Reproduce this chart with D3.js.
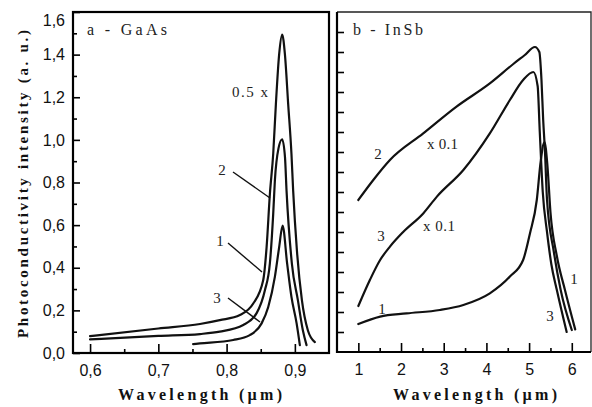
<!DOCTYPE html>
<html>
<head>
<meta charset="utf-8">
<script src="https://cdn.jsdelivr.net/npm/d3@7/dist/d3.min.js"></script>
<style>
  body { margin: 0; background: #fff; }
  svg { display: block; }
</style>
</head>
<body>
<svg id="chart" width="592" height="407"></svg>
<script>
// ---------- Panel a: GaAs ----------
const gaasTicksMajor = [0.6, 0.7, 0.8, 0.9];
const gaasTicksMinor = [0.65, 0.75, 0.85];
const gaasYMajor = [0, 0.2, 0.4, 0.6, 0.8, 1.0, 1.2, 1.4, 1.6];
const gaasYMinor = [0.1, 0.3, 0.5, 0.7, 0.9, 1.1, 1.3, 1.5];

const gaasWl2 = [0.60, 0.70, 0.761, 0.790, 0.8195, 0.839, 0.8536, 0.8586, 0.8634, 0.8683, 0.8722, 0.877, 0.8814, 0.8854, 0.8902, 0.895, 0.8975, 0.903, 0.9103, 0.919, 0.9293];
const gaasV2  = [0.079, 0.115, 0.136, 0.154, 0.178, 0.232, 0.341, 0.497, 0.746, 0.935, 1.168, 1.402, 1.494, 1.402, 1.168, 0.935, 0.762, 0.481, 0.248, 0.107, 0.051];

const gaasWl1 = [0.60, 0.70, 0.761, 0.790, 0.8244, 0.844, 0.8561, 0.8634, 0.8683, 0.8707, 0.876, 0.8814, 0.8855, 0.8878, 0.8956, 0.9044, 0.9117, 0.9171];
const gaasV1  = [0.064, 0.080, 0.089, 0.100, 0.131, 0.187, 0.294, 0.421, 0.654, 0.808, 0.960, 1.003, 0.920, 0.762, 0.420, 0.248, 0.107, 0.037];

const gaasWl3 = [0.751, 0.761, 0.8097, 0.834, 0.8513, 0.861, 0.8707, 0.877, 0.882, 0.8887, 0.895, 0.9025, 0.9073];
const gaasV3  = [0.042, 0.045, 0.061, 0.084, 0.139, 0.216, 0.357, 0.497, 0.598, 0.419, 0.263, 0.140, 0.037];

// ---------- Panel b: InSb ----------
const insbTicksMajor = [1, 2, 3, 4, 5, 6];
const insbTicksMinor = [1.5, 2.5, 3.5, 4.5, 5.5];
const insbYTicks = [1, 2, 3, 4, 5, 6, 7, 8, 9, 10, 11, 12, 13, 14, 15, 16];

const insbWl2 = [1.0, 1.35, 1.74, 2.52, 3.30, 4.08, 4.63, 4.90, 5.136, 5.24, 5.29, 5.33, 5.37, 5.42, 5.58, 5.74, 6.0];
const insbV2  = [7.6, 8.6, 9.6, 10.93, 12.27, 13.43, 14.4, 14.85, 15.25, 15.0, 13.6, 11.6, 10.1, 7.6, 5.0, 3.1, 1.1];

const insbWl3 = [1.0, 1.27, 1.51, 1.74, 2.05, 2.52, 2.84, 3.46, 4.08, 4.55, 4.86, 5.10, 5.20, 5.25, 5.32, 5.42, 5.52, 5.65, 5.88];
const insbV3  = [2.3, 3.6, 4.6, 5.27, 6.0, 6.93, 7.77, 9.1, 10.93, 12.6, 13.6, 14.0, 13.3, 11.0, 8.0, 6.0, 4.4, 3.1, 1.0];

const insbWl1 = [1.0, 1.51, 2.13, 2.91, 3.46, 4.08, 4.55, 4.86, 5.02, 5.18, 5.27, 5.36, 5.43, 5.5, 5.65, 5.84, 6.08];
const insbV1  = [1.4, 1.77, 1.93, 2.1, 2.35, 2.93, 3.77, 4.6, 5.93, 7.6, 9.5, 10.5, 9.3, 7.0, 4.8, 3.1, 1.13];

const svg = d3.select("#chart");
const serif = "'Liberation Serif', 'Times New Roman', serif";
const sans = "'Liberation Sans', Arial, sans-serif";
const comma = v => d3.format(".1f")(v).replace(".", ",");

// scales
const xa = d3.scaleLinear().domain([0.575, 0.95]).range([73, 329]);
const ya = d3.scaleLinear().domain([0, 1.6]).range([353, 12]);
const xb = d3.scaleLinear().domain([0.5, 6.45]).range([337, 591]);
const yb = d3.scaleLinear().domain([0, 17]).range([352, 12]);

function styleAxis(g) {
  g.select(".domain").remove();
  g.selectAll(".tick line").attr("stroke", "#000").attr("stroke-width", 1.6);
  g.selectAll("text").attr("font-family", sans).attr("font-size", 16).attr("fill", "#111");
}

// ---- panel a axes ----
svg.append("g").attr("transform", "translate(0,353)")
  .call(d3.axisBottom(xa).tickValues(gaasTicksMajor).tickFormat(comma).tickSize(-9).tickPadding(12))
  .call(styleAxis);
svg.append("g").attr("transform", "translate(0,353)")
  .call(d3.axisBottom(xa).tickValues(gaasTicksMinor).tickFormat("").tickSize(-4))
  .call(styleAxis);
const yAxA = svg.append("g").attr("transform", "translate(73,0)")
  .call(d3.axisLeft(ya).tickValues(gaasYMajor).tickFormat(comma).tickSize(-7).tickPadding(8))
  .call(styleAxis);
yAxA.selectAll(".tick").filter(d => d === 1.6).select("text").attr("dy", "0.85em");
svg.append("g").attr("transform", "translate(73,0)")
  .call(d3.axisLeft(ya).tickValues(gaasYMinor).tickFormat("").tickSize(-4))
  .call(styleAxis);

// ---- panel b axes ----
svg.append("g").attr("transform", "translate(0,352)")
  .call(d3.axisBottom(xb).tickValues(insbTicksMajor).tickFormat(d3.format("d")).tickSize(-9).tickPadding(12))
  .call(styleAxis);
svg.append("g").attr("transform", "translate(0,352)")
  .call(d3.axisBottom(xb).tickValues(insbTicksMinor).tickFormat("").tickSize(-4))
  .call(styleAxis);
svg.append("g").attr("transform", "translate(337,0)")
  .call(d3.axisLeft(yb).tickValues(insbYTicks).tickFormat("").tickSize(-7))
  .call(styleAxis);

// ---- frames ----
svg.append("rect").attr("x", 73).attr("y", 12).attr("width", 256).attr("height", 341)
  .attr("fill", "none").attr("stroke", "#000").attr("stroke-width", 2.2);
svg.append("path").attr("d", "M337,12 H591 V352").attr("fill", "none").attr("stroke", "#222").attr("stroke-width", 1.3);
svg.append("path").attr("d", "M337,12 V352 H591").attr("fill", "none").attr("stroke", "#000").attr("stroke-width", 2.2);

// ---- curves ----
function drawCurve(wl, v, x, y) {
  const line = d3.line().x((d, i) => x(wl[i])).y((d, i) => y(v[i])).curve(d3.curveMonotoneX);
  svg.append("path").datum(wl).attr("d", line)
    .attr("fill", "none").attr("stroke", "#111").attr("stroke-width", 2.2)
    .attr("stroke-linejoin", "round").attr("stroke-linecap", "round");
}
drawCurve(gaasWl2, gaasV2, xa, ya);
drawCurve(gaasWl1, gaasV1, xa, ya);
drawCurve(gaasWl3, gaasV3, xa, ya);
drawCurve(insbWl2, insbV2, xb, yb);
drawCurve(insbWl3, insbV3, xb, yb);
drawCurve(insbWl1, insbV1, xb, yb);

// ---- annotations ----
function txt(x, y, s, opts = {}) {
  const t = svg.append("text").attr("x", x).attr("y", y).text(s)
    .attr("font-family", opts.family || serif)
    .attr("font-size", opts.size || 15)
    .attr("font-weight", opts.weight || "normal")
    .attr("fill", opts.fill || "#222")
    .attr("text-anchor", opts.anchor || "start");
  if (opts.len) t.attr("textLength", opts.len).attr("lengthAdjust", "spacing");
  return t;
}
txt(87, 35, "a - GaAs", { len: 80, size: 16 });
txt(353, 35, "b - InSb", { len: 70, size: 16 });
txt(232, 97, "0.5 x", { len: 36 });

txt(222, 175, "2", { anchor: "middle" });
txt(220, 246, "1", { anchor: "middle" });
txt(217, 303, "3", { anchor: "middle" });
const leaders = [[233, 172, 270, 198], [228, 243, 262, 272], [228, 298, 260, 322]];
leaders.forEach(l => svg.append("line").attr("x1", l[0]).attr("y1", l[1]).attr("x2", l[2]).attr("y2", l[3])
  .attr("stroke", "#111").attr("stroke-width", 1.4));

txt(378, 159, "2", { anchor: "middle" });
txt(427, 149, "x 0.1", { len: 31 });
txt(381, 241, "3", { anchor: "middle" });
txt(423, 231, "x 0.1", { len: 32 });
txt(382, 314, "1", { anchor: "middle" });
txt(574, 284, "1", { anchor: "middle" });
txt(550, 321, "3", { anchor: "middle" });

// ---- axis titles ----
txt(200, 400, "Wavelength (µm)", { anchor: "middle", weight: "bold", size: 16, len: 164, fill: "#111" });
txt(475, 400, "Wavelength (µm)", { anchor: "middle", weight: "bold", size: 16, len: 164, fill: "#111" });
svg.append("text")
  .attr("transform", "translate(28,184) rotate(-90)")
  .attr("text-anchor", "middle")
  .attr("font-family", serif).attr("font-weight", "bold").attr("font-size", 15)
  .attr("fill", "#111")
  .attr("textLength", 308).attr("lengthAdjust", "spacing")
  .text("Photoconductivity intensity (a. u.)");
</script>
</body>
</html>
